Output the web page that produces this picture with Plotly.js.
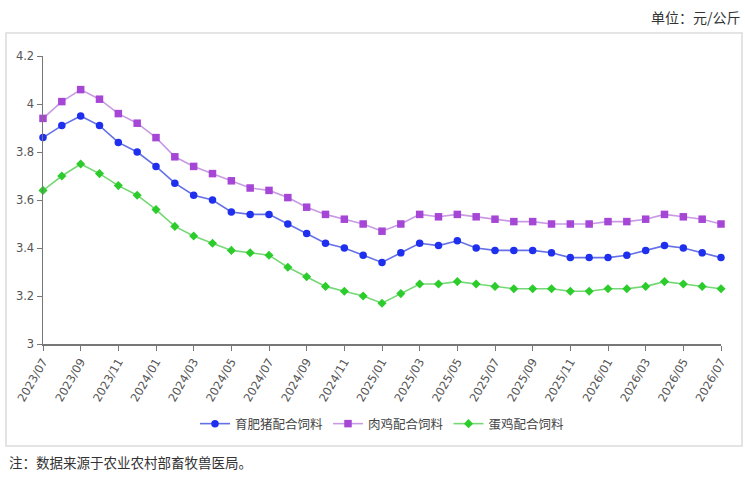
<!DOCTYPE html>
<html>
<head>
<meta charset="utf-8">
<script src="https://cdn.plot.ly/plotly-3.0.1.min.js"></script>
<style>html,body{margin:0;padding:0;background:#fff;}#chart{width:745px;height:479px;}</style>
</head>
<body>
<div id="chart"></div>
<script>
const months = ["2023/07","2023/08","2023/09","2023/10","2023/11","2023/12",
  "2024/01","2024/02","2024/03","2024/04","2024/05","2024/06","2024/07","2024/08","2024/09","2024/10","2024/11","2024/12",
  "2025/01","2025/02","2025/03","2025/04","2025/05","2025/06","2025/07","2025/08","2025/09","2025/10","2025/11","2025/12",
  "2026/01","2026/02","2026/03","2026/04","2026/05","2026/06","2026/07"];
const tickLabels = ["2023/07","2023/09","2023/11","2024/01","2024/03","2024/05","2024/07","2024/09","2024/11",
  "2025/01","2025/03","2025/05","2025/07","2025/09","2025/11","2026/01","2026/03","2026/05","2026/07"];
const seriesNames = ["育肥猪配合饲料","肉鸡配合饲料","蛋鸡配合饲料"];
const pigFeed = [3.86,3.91,3.95,3.91,3.84,3.80,3.74,3.67,3.62,3.60,3.55,3.54,3.54,3.50,3.46,3.42,3.40,3.37,
  3.34,3.38,3.42,3.41,3.43,3.40,3.39,3.39,3.39,3.38,3.36,3.36,3.36,3.37,3.39,3.41,3.40,3.38,3.36];
const broilerFeed = [3.94,4.01,4.06,4.02,3.96,3.92,3.86,3.78,3.74,3.71,3.68,3.65,3.64,3.61,3.57,3.54,3.52,3.50,
  3.47,3.50,3.54,3.53,3.54,3.53,3.52,3.51,3.51,3.50,3.50,3.50,3.51,3.51,3.52,3.54,3.53,3.52,3.50];
const layerFeed = [3.64,3.70,3.75,3.71,3.66,3.62,3.56,3.49,3.45,3.42,3.39,3.38,3.37,3.32,3.28,3.24,3.22,3.20,
  3.17,3.21,3.25,3.25,3.26,3.25,3.24,3.23,3.23,3.23,3.22,3.22,3.23,3.23,3.24,3.26,3.25,3.24,3.23];
const unitText = "单位：元/公斤";
const noteText = "注：数据来源于农业农村部畜牧兽医局。";

const W = 745, H = 479;
const M = {l:43, r:24, t:56, b:135};
const plotW = W - M.l - M.r, plotH = H - M.t - M.b;
const px = x => (x - M.l) / plotW;
const py = y => (H - M.b - y) / plotH;

function trace(name, y, lineColor, markerColor, symbol, size) {
  return {
    type: "scatter", mode: "lines+markers", name: name,
    x: months, y: y, cliponaxis: false,
    line: {color: lineColor, width: 1.6},
    marker: {color: markerColor, symbol: symbol, size: size, line: {width: 0}}
  };
}
const data = [
  trace(seriesNames[0], pigFeed, "#6470e6", "#1f2fee", "circle", 7.5),
  trace(seriesNames[1], broilerFeed, "#c99ae4", "#a646d6", "square", 7.5),
  trace(seriesNames[2], layerFeed, "#74d874", "#2ccc2c", "diamond", 7)
];

const layout = {
  width: W, height: H,
  margin: M,
  paper_bgcolor: "#fff", plot_bgcolor: "#fff",
  font: {family: "DejaVu Sans, sans-serif", size: 11, color: "#444"},
  showlegend: true,
  xaxis: {
    type: "category", range: [0, months.length - 1],
    tickmode: "array", tickvals: tickLabels, ticktext: tickLabels,
    tickangle: -60, ticks: "outside", ticklen: 5, tickcolor: "#777",
    showline: true, linecolor: "#777", linewidth: 1.5,
    showgrid: false, zeroline: false,
    tickfont: {family: "DejaVu Sans, sans-serif", size: 11.5, color: "#555"}
  },
  yaxis: {
    range: [3, 4.2], dtick: 0.2, tick0: 3,
    ticks: "outside", ticklen: 5, tickcolor: "#777",
    showline: true, linecolor: "#777", linewidth: 1.5,
    showgrid: false, zeroline: false,
    tickfont: {family: "DejaVu Sans, sans-serif", size: 11.5, color: "#555"}
  },
  legend: {
    orientation: "h", x: 0.5, xanchor: "center", y: py(424), yanchor: "middle",
    font: {family: "Noto Sans CJK SC, sans-serif", size: 12.5, color: "#444"},
    itemwidth: 30, tracegroupgap: 0, bgcolor: "rgba(0,0,0,0)"
  },
  shapes: [{
    type: "rect", xref: "paper", yref: "paper", layer: "below",
    x0: px(6), x1: px(742), y0: py(446), y1: py(33),
    line: {color: "#dcdcdc", width: 1.5}, fillcolor: "rgba(0,0,0,0)"
  }],
  annotations: [
    {text: unitText, xref: "paper", yref: "paper", x: px(743), y: py(17), xanchor: "right", yanchor: "middle",
     showarrow: false, font: {family: "Noto Sans CJK SC, sans-serif", size: 14, color: "#333"}},
    {text: noteText, xref: "paper", yref: "paper", x: px(7), y: py(462), xanchor: "left", yanchor: "middle",
     showarrow: false, font: {family: "Noto Sans CJK SC, sans-serif", size: 13.5, color: "#333"}}
  ]
};
Plotly.newPlot("chart", data, layout, {displayModeBar: false, staticPlot: true});
</script>
</body>
</html>
